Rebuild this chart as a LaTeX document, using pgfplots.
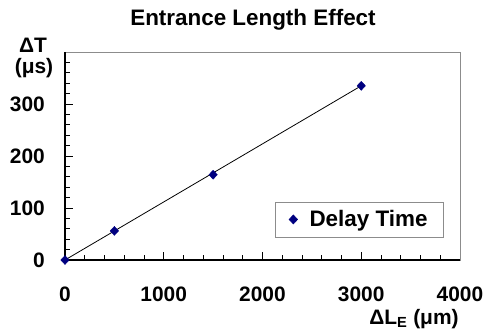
\documentclass[border=0pt]{standalone}
\usepackage{pgfplots}
\pgfplotsset{compat=1.18}
\usepackage{fontspec}
\setmainfont{Liberation Sans}
\definecolor{navy}{RGB}{0,0,128}
\definecolor{boxgrey}{RGB}{140,140,140}
\newcommand{\F}{\bfseries\fontsize{21}{24}\selectfont}
\newcommand{\G}{\bfseries\fontsize{22.5}{25}\selectfont}
\begin{document}
\begin{tikzpicture}
\useasboundingbox (-65bp,-71bp) rectangle (429bp,260bp);
\begin{axis}[
  at={(0,0)}, anchor=south west,
  scale only axis, width=395bp, height=208bp,
  xmin=0, xmax=4000, ymin=0, ymax=400,
  xtick={0,1000,2000,3000,4000},
  ytick={0,100,200,300},
  minor x tick num=4, minor y tick num=4,
  extra y ticks={320,340,360,380}, extra y tick labels={},
  extra y tick style={major tick length=5bp},
  xtick pos=bottom, ytick pos=left,
  tick align=inside,
  major tick length=8bp, minor tick length=5bp,
  every tick/.style={black, line width=0.7pt},
  axis line style={boxgrey, line width=0.8pt},
  /pgf/number format/assume math mode=true,
  /pgf/number format/1000 sep={},
  tick label style={font=\F},
  xticklabel style={anchor=north, inner sep=0pt, yshift=-27bp},
  yticklabel style={anchor=east, inner sep=0pt, xshift=-20bp},
  legend style={at={(0.959,0.11)}, anchor=south east, draw=boxgrey, line width=0.6pt,
    font=\G, inner xsep=14bp, inner ysep=6.5bp, cells={anchor=west}},
  clip=false,
]
\addplot[black, line width=0.8pt, forget plot] coordinates {(0,0) (3000,335)};
\addplot[only marks, mark=diamond*, mark size=4.5bp, color=navy,
  mark options={xscale=1.25}] coordinates {
  (0,0) (500,56) (1500,164) (3000,335)};
\addlegendentry{\hspace{10bp}Delay Time}
\draw[black, line width=1.2pt] (rel axis cs:0,1) -- (rel axis cs:0,0) -- (rel axis cs:1,0);
\end{axis}
\node[font=\G, anchor=base] at (188bp,234bp) {Entrance Length Effect};
\node[font=\F, anchor=base] at (-32bp,207bp) {ΔT};
\node[font=\F, anchor=base] at (-31bp,186bp) {(μs)};
\node[font=\F, anchor=base] at (349bp,-64bp) {ΔL\textsubscript{E} (μm)};
\end{tikzpicture}
\end{document}
